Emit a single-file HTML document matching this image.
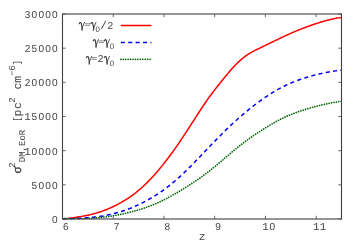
<!DOCTYPE html>
<html><head><meta charset="utf-8"><title>plot</title>
<style>
html,body{margin:0;padding:0;background:#fff;}
svg{display:block;text-rendering:geometricPrecision;}
text{fill:#444;}
.d{font-family:"Liberation Sans",sans-serif;font-size:10.1px;}
.m{font-family:"Liberation Mono",monospace;font-size:11.3px;}
.g{font-family:"Liberation Serif",serif;font-size:12.5px;}
.s{font-size:7.9px;}
.ms{font-size:9px;}
</style></head><body>
<svg width="354" height="248" viewBox="0 0 354 248">
<defs><clipPath id="cp"><rect x="62.5" y="14.0" width="279.0" height="205.6"/></clipPath><filter id="ga" filterUnits="userSpaceOnUse" x="0" y="0" width="354" height="248"><feOffset dx="0" dy="0"/></filter></defs>
<rect width="354" height="248" fill="#fff"/>
<g fill="none" stroke-linejoin="round" clip-path="url(#cp)">
<path d="M62.50,219.00 L63.90,218.96 L65.30,218.80 L66.71,218.63 L68.11,218.45 L69.51,218.28 L70.91,218.09 L72.31,217.91 L73.72,217.71 L75.12,217.51 L76.52,217.30 L77.92,217.08 L79.32,216.85 L80.73,216.62 L82.13,216.37 L83.53,216.11 L84.93,215.83 L86.33,215.55 L87.74,215.25 L89.14,214.94 L90.54,214.61 L91.94,214.27 L93.34,213.91 L94.75,213.53 L96.15,213.13 L97.55,212.72 L98.95,212.28 L100.35,211.82 L101.76,211.34 L103.16,210.84 L104.56,210.32 L105.96,209.77 L107.36,209.20 L108.77,208.61 L110.17,207.99 L111.57,207.36 L112.97,206.70 L114.37,206.02 L115.78,205.32 L117.18,204.60 L118.58,203.85 L119.98,203.09 L121.38,202.31 L122.79,201.51 L124.19,200.68 L125.59,199.83 L126.99,198.95 L128.39,198.03 L129.80,197.09 L131.20,196.11 L132.60,195.10 L134.00,194.05 L135.40,192.97 L136.81,191.85 L138.21,190.69 L139.61,189.50 L141.01,188.28 L142.41,187.02 L143.82,185.72 L145.22,184.39 L146.62,183.03 L148.02,181.63 L149.42,180.20 L150.83,178.74 L152.23,177.24 L153.63,175.71 L155.03,174.14 L156.43,172.55 L157.84,170.92 L159.24,169.26 L160.64,167.57 L162.04,165.85 L163.44,164.10 L164.85,162.32 L166.25,160.52 L167.65,158.68 L169.05,156.82 L170.45,154.93 L171.86,153.02 L173.26,151.07 L174.66,149.11 L176.06,147.11 L177.46,145.10 L178.87,143.06 L180.27,141.00 L181.67,138.92 L183.07,136.83 L184.47,134.71 L185.88,132.58 L187.28,130.44 L188.68,128.28 L190.08,126.12 L191.48,123.94 L192.89,121.76 L194.29,119.57 L195.69,117.39 L197.09,115.21 L198.49,113.03 L199.90,110.87 L201.30,108.73 L202.70,106.61 L204.10,104.52 L205.51,102.46 L206.91,100.43 L208.31,98.44 L209.71,96.49 L211.11,94.57 L212.52,92.69 L213.92,90.84 L215.32,89.01 L216.72,87.22 L218.12,85.44 L219.53,83.68 L220.93,81.94 L222.33,80.20 L223.73,78.48 L225.13,76.76 L226.54,75.05 L227.94,73.36 L229.34,71.70 L230.74,70.07 L232.14,68.48 L233.55,66.95 L234.95,65.47 L236.35,64.04 L237.75,62.67 L239.15,61.36 L240.56,60.11 L241.96,58.91 L243.36,57.78 L244.76,56.69 L246.16,55.67 L247.57,54.70 L248.97,53.79 L250.37,52.94 L251.77,52.13 L253.17,51.37 L254.58,50.64 L255.98,49.94 L257.38,49.25 L258.78,48.57 L260.18,47.89 L261.59,47.21 L262.99,46.53 L264.39,45.85 L265.79,45.17 L267.19,44.50 L268.60,43.82 L270.00,43.14 L271.40,42.46 L272.80,41.78 L274.20,41.10 L275.61,40.43 L277.01,39.75 L278.41,39.08 L279.81,38.41 L281.21,37.74 L282.62,37.07 L284.02,36.41 L285.42,35.76 L286.82,35.11 L288.22,34.47 L289.63,33.85 L291.03,33.23 L292.43,32.62 L293.83,32.02 L295.23,31.43 L296.64,30.85 L298.04,30.28 L299.44,29.72 L300.84,29.16 L302.24,28.61 L303.65,28.07 L305.05,27.53 L306.45,27.00 L307.85,26.48 L309.25,25.97 L310.66,25.46 L312.06,24.97 L313.46,24.49 L314.86,24.01 L316.26,23.55 L317.67,23.10 L319.07,22.66 L320.47,22.23 L321.87,21.81 L323.27,21.41 L324.68,21.01 L326.08,20.63 L327.48,20.26 L328.88,19.91 L330.28,19.57 L331.69,19.24 L333.09,18.93 L334.49,18.63 L335.89,18.36 L337.29,18.10 L338.70,17.87 L340.10,17.66 L341.50,17.48" stroke="#ff0000" stroke-width="1.5"/>
<path d="M62.50,219.00 L63.90,219.00 L65.30,219.00 L66.71,218.94 L68.11,218.88 L69.51,218.82 L70.91,218.76 L72.31,218.69 L73.72,218.62 L75.12,218.54 L76.52,218.46 L77.92,218.38 L79.32,218.29 L80.73,218.20 L82.13,218.11 L83.53,218.01 L84.93,217.91 L86.33,217.81 L87.74,217.70 L89.14,217.59 L90.54,217.47 L91.94,217.34 L93.34,217.21 L94.75,217.06 L96.15,216.91 L97.55,216.74 L98.95,216.55 L100.35,216.35 L101.76,216.14 L103.16,215.90 L104.56,215.65 L105.96,215.39 L107.36,215.11 L108.77,214.81 L110.17,214.50 L111.57,214.17 L112.97,213.83 L114.37,213.47 L115.78,213.10 L117.18,212.72 L118.58,212.32 L119.98,211.90 L121.38,211.47 L122.79,211.02 L124.19,210.56 L125.59,210.08 L126.99,209.58 L128.39,209.06 L129.80,208.52 L131.20,207.96 L132.60,207.38 L134.00,206.79 L135.40,206.17 L136.81,205.53 L138.21,204.88 L139.61,204.20 L141.01,203.51 L142.41,202.81 L143.82,202.08 L145.22,201.34 L146.62,200.58 L148.02,199.81 L149.42,199.02 L150.83,198.21 L152.23,197.38 L153.63,196.54 L155.03,195.67 L156.43,194.78 L157.84,193.88 L159.24,192.95 L160.64,191.99 L162.04,191.02 L163.44,190.02 L164.85,189.01 L166.25,187.96 L167.65,186.90 L169.05,185.81 L170.45,184.70 L171.86,183.57 L173.26,182.42 L174.66,181.24 L176.06,180.04 L177.46,178.83 L178.87,177.58 L180.27,176.32 L181.67,175.03 L183.07,173.72 L184.47,172.39 L185.88,171.03 L187.28,169.66 L188.68,168.26 L190.08,166.85 L191.48,165.43 L192.89,163.99 L194.29,162.54 L195.69,161.09 L197.09,159.62 L198.49,158.16 L199.90,156.69 L201.30,155.22 L202.70,153.75 L204.10,152.29 L205.51,150.82 L206.91,149.36 L208.31,147.89 L209.71,146.43 L211.11,144.98 L212.52,143.52 L213.92,142.08 L215.32,140.63 L216.72,139.19 L218.12,137.76 L219.53,136.34 L220.93,134.93 L222.33,133.52 L223.73,132.13 L225.13,130.75 L226.54,129.38 L227.94,128.03 L229.34,126.69 L230.74,125.36 L232.14,124.05 L233.55,122.75 L234.95,121.47 L236.35,120.20 L237.75,118.94 L239.15,117.70 L240.56,116.47 L241.96,115.26 L243.36,114.06 L244.76,112.88 L246.16,111.71 L247.57,110.56 L248.97,109.42 L250.37,108.29 L251.77,107.18 L253.17,106.09 L254.58,105.01 L255.98,103.95 L257.38,102.91 L258.78,101.88 L260.18,100.86 L261.59,99.86 L262.99,98.88 L264.39,97.91 L265.79,96.96 L267.19,96.03 L268.60,95.11 L270.00,94.21 L271.40,93.32 L272.80,92.46 L274.20,91.61 L275.61,90.78 L277.01,89.97 L278.41,89.17 L279.81,88.40 L281.21,87.65 L282.62,86.92 L284.02,86.21 L285.42,85.52 L286.82,84.86 L288.22,84.21 L289.63,83.59 L291.03,82.99 L292.43,82.41 L293.83,81.85 L295.23,81.31 L296.64,80.78 L298.04,80.26 L299.44,79.76 L300.84,79.27 L302.24,78.79 L303.65,78.32 L305.05,77.87 L306.45,77.42 L307.85,76.99 L309.25,76.57 L310.66,76.17 L312.06,75.78 L313.46,75.40 L314.86,75.03 L316.26,74.67 L317.67,74.33 L319.07,73.99 L320.47,73.67 L321.87,73.36 L323.27,73.06 L324.68,72.78 L326.08,72.50 L327.48,72.24 L328.88,71.98 L330.28,71.74 L331.69,71.51 L333.09,71.29 L334.49,71.08 L335.89,70.88 L337.29,70.69 L338.70,70.52 L340.10,70.35 L341.50,70.20" stroke="#0000ff" stroke-width="1.5" stroke-dasharray="4.1 3.3"/>
<path d="M62.50,218.31 L63.90,218.40 L65.30,218.47 L66.71,218.54 L68.11,218.60 L69.51,218.65 L70.91,218.70 L72.31,218.73 L73.72,218.76 L75.12,218.77 L76.52,218.78 L77.92,218.78 L79.32,218.77 L80.73,218.75 L82.13,218.73 L83.53,218.69 L84.93,218.64 L86.33,218.59 L87.74,218.52 L89.14,218.45 L90.54,218.37 L91.94,218.28 L93.34,218.18 L94.75,218.07 L96.15,217.95 L97.55,217.83 L98.95,217.69 L100.35,217.55 L101.76,217.39 L103.16,217.23 L104.56,217.06 L105.96,216.87 L107.36,216.68 L108.77,216.48 L110.17,216.26 L111.57,216.04 L112.97,215.81 L114.37,215.56 L115.78,215.31 L117.18,215.04 L118.58,214.77 L119.98,214.48 L121.38,214.18 L122.79,213.88 L124.19,213.56 L125.59,213.24 L126.99,212.90 L128.39,212.56 L129.80,212.21 L131.20,211.86 L132.60,211.49 L134.00,211.12 L135.40,210.74 L136.81,210.34 L138.21,209.94 L139.61,209.53 L141.01,209.10 L142.41,208.66 L143.82,208.20 L145.22,207.73 L146.62,207.23 L148.02,206.73 L149.42,206.20 L150.83,205.66 L152.23,205.11 L153.63,204.53 L155.03,203.95 L156.43,203.34 L157.84,202.73 L159.24,202.09 L160.64,201.44 L162.04,200.78 L163.44,200.10 L164.85,199.40 L166.25,198.68 L167.65,197.95 L169.05,197.20 L170.45,196.43 L171.86,195.66 L173.26,194.86 L174.66,194.06 L176.06,193.25 L177.46,192.43 L178.87,191.60 L180.27,190.76 L181.67,189.92 L183.07,189.06 L184.47,188.21 L185.88,187.34 L187.28,186.46 L188.68,185.57 L190.08,184.67 L191.48,183.76 L192.89,182.84 L194.29,181.90 L195.69,180.96 L197.09,180.00 L198.49,179.02 L199.90,178.04 L201.30,177.04 L202.70,176.03 L204.10,175.00 L205.51,173.96 L206.91,172.91 L208.31,171.84 L209.71,170.75 L211.11,169.64 L212.52,168.52 L213.92,167.38 L215.32,166.22 L216.72,165.05 L218.12,163.88 L219.53,162.69 L220.93,161.49 L222.33,160.30 L223.73,159.10 L225.13,157.89 L226.54,156.69 L227.94,155.50 L229.34,154.30 L230.74,153.12 L232.14,151.94 L233.55,150.77 L234.95,149.61 L236.35,148.46 L237.75,147.32 L239.15,146.20 L240.56,145.09 L241.96,143.99 L243.36,142.91 L244.76,141.85 L246.16,140.80 L247.57,139.76 L248.97,138.75 L250.37,137.75 L251.77,136.77 L253.17,135.81 L254.58,134.87 L255.98,133.94 L257.38,133.03 L258.78,132.13 L260.18,131.23 L261.59,130.35 L262.99,129.47 L264.39,128.59 L265.79,127.72 L267.19,126.86 L268.60,126.00 L270.00,125.16 L271.40,124.32 L272.80,123.50 L274.20,122.69 L275.61,121.90 L277.01,121.13 L278.41,120.37 L279.81,119.64 L281.21,118.93 L282.62,118.24 L284.02,117.58 L285.42,116.93 L286.82,116.30 L288.22,115.68 L289.63,115.09 L291.03,114.51 L292.43,113.94 L293.83,113.39 L295.23,112.85 L296.64,112.33 L298.04,111.82 L299.44,111.33 L300.84,110.85 L302.24,110.39 L303.65,109.93 L305.05,109.49 L306.45,109.06 L307.85,108.65 L309.25,108.24 L310.66,107.84 L312.06,107.44 L313.46,107.06 L314.86,106.68 L316.26,106.31 L317.67,105.95 L319.07,105.60 L320.47,105.25 L321.87,104.91 L323.27,104.58 L324.68,104.26 L326.08,103.95 L327.48,103.65 L328.88,103.37 L330.28,103.09 L331.69,102.82 L333.09,102.57 L334.49,102.34 L335.89,102.12 L337.29,101.92 L338.70,101.74 L340.10,101.58 L341.50,101.43" stroke="#006400" stroke-width="1.7" stroke-dasharray="0.01 2.43" stroke-linecap="round"/>
<path d="M120.8,25.4H151.4" stroke="#ff0000" stroke-width="1.5"/>
<path d="M120.8,42.5H151.4" stroke="#0000ff" stroke-width="1.5" stroke-dasharray="4.1 3.3"/>
<path d="M120.8,59.3H151.4" stroke="#006400" stroke-width="1.7" stroke-dasharray="0.01 2.43" stroke-linecap="round"/>
</g>
<g fill="none" stroke="#404040" stroke-width="1.1">
<rect x="62.5" y="14.0" width="279.0" height="205.0"/>
<g stroke-width="0.8" stroke="#444"><path d="M62.5,219.00h3.2M341.5,219.00h-3.2"/><path d="M62.5,184.83h3.2M341.5,184.83h-3.2"/><path d="M62.5,150.67h3.2M341.5,150.67h-3.2"/><path d="M62.5,116.50h3.2M341.5,116.50h-3.2"/><path d="M62.5,82.33h3.2M341.5,82.33h-3.2"/><path d="M62.5,48.17h3.2M341.5,48.17h-3.2"/><path d="M62.5,14.00h3.2M341.5,14.00h-3.2"/><path d="M62.50,219.0v-3.2M62.50,14.0v3.2"/><path d="M113.23,219.0v-3.2M113.23,14.0v3.2"/><path d="M163.95,219.0v-3.2M163.95,14.0v3.2"/><path d="M214.68,219.0v-3.2M214.68,14.0v3.2"/><path d="M265.41,219.0v-3.2M265.41,14.0v3.2"/><path d="M316.14,219.0v-3.2M316.14,14.0v3.2"/></g>
</g>
<g filter="url(#ga)">
<text class="d" y="222.95" text-anchor="middle"><tspan x="54.80">0</tspan></text><text class="d" y="188.78" text-anchor="middle"><tspan x="34.40">5</tspan><tspan x="41.20">0</tspan><tspan x="48.00">0</tspan><tspan x="54.80">0</tspan></text><text class="d" y="154.62" text-anchor="middle"><tspan x="27.60" style="font-family:'Liberation Mono',monospace;font-size:10.8px">1</tspan><tspan x="34.40">0</tspan><tspan x="41.20">0</tspan><tspan x="48.00">0</tspan><tspan x="54.80">0</tspan></text><text class="d" y="120.45" text-anchor="middle"><tspan x="27.60" style="font-family:'Liberation Mono',monospace;font-size:10.8px">1</tspan><tspan x="34.40">5</tspan><tspan x="41.20">0</tspan><tspan x="48.00">0</tspan><tspan x="54.80">0</tspan></text><text class="d" y="86.28" text-anchor="middle"><tspan x="27.60">2</tspan><tspan x="34.40">0</tspan><tspan x="41.20">0</tspan><tspan x="48.00">0</tspan><tspan x="54.80">0</tspan></text><text class="d" y="52.12" text-anchor="middle"><tspan x="27.60">2</tspan><tspan x="34.40">5</tspan><tspan x="41.20">0</tspan><tspan x="48.00">0</tspan><tspan x="54.80">0</tspan></text><text class="d" y="17.95" text-anchor="middle"><tspan x="27.60">3</tspan><tspan x="34.40">0</tspan><tspan x="41.20">0</tspan><tspan x="48.00">0</tspan><tspan x="54.80">0</tspan></text>
<text class="d" y="229.70" text-anchor="middle"><tspan x="65.90">6</tspan></text><text class="d" y="229.70" text-anchor="middle"><tspan x="116.63">7</tspan></text><text class="d" y="229.70" text-anchor="middle"><tspan x="167.35">8</tspan></text><text class="d" y="229.70" text-anchor="middle"><tspan x="218.08">9</tspan></text><text class="d" y="229.70" text-anchor="middle"><tspan x="265.41" style="font-family:'Liberation Mono',monospace;font-size:10.8px">1</tspan><tspan x="272.21">0</tspan></text><text class="d" y="229.70" text-anchor="middle"><tspan x="316.14" style="font-family:'Liberation Mono',monospace;font-size:10.8px">1</tspan><tspan x="322.94" style="font-family:'Liberation Mono',monospace;font-size:10.8px">1</tspan></text>
<text class="m" x="202.2" y="239.8" text-anchor="middle">z</text>
<g transform="translate(79.0,28.5)" fill="none" stroke="#333" stroke-linecap="round" stroke-linejoin="round"><path d="M0.25,-4.7C0.6,-6.1 1.7,-6.4 2.3,-5.1L3.2,-0.3" stroke-width="1.1"/><path d="M3.2,-0.3C3.5,0.9 3.5,2.1 3.0,2.1C2.5,2.1 2.6,0.9 3.1,-0.4L5.5,-6.1" stroke-width="0.8"/></g><path d="M84.8,23.75h5.2M84.8,25.4h5.2" stroke="#444" stroke-width="0.75" fill="none" opacity="0.8"/><g transform="translate(90.5,28.5)" fill="none" stroke="#333" stroke-linecap="round" stroke-linejoin="round"><path d="M0.25,-4.7C0.6,-6.1 1.7,-6.4 2.3,-5.1L3.2,-0.3" stroke-width="1.1"/><path d="M3.2,-0.3C3.5,0.9 3.5,2.1 3.0,2.1C2.5,2.1 2.6,0.9 3.1,-0.4L5.5,-6.1" stroke-width="0.8"/></g><text class="d s" x="97.8" y="31.7" text-anchor="middle">0</text><text class="m" x="103.6" y="28.5" text-anchor="middle">/</text><text class="d" x="110.4" y="28.5" text-anchor="middle">2</text><g transform="translate(93.0,45.6)" fill="none" stroke="#333" stroke-linecap="round" stroke-linejoin="round"><path d="M0.25,-4.7C0.6,-6.1 1.7,-6.4 2.3,-5.1L3.2,-0.3" stroke-width="1.1"/><path d="M3.2,-0.3C3.5,0.9 3.5,2.1 3.0,2.1C2.5,2.1 2.6,0.9 3.1,-0.4L5.5,-6.1" stroke-width="0.8"/></g><path d="M98.6,40.85h5.2M98.6,42.5h5.2" stroke="#444" stroke-width="0.75" fill="none" opacity="0.8"/><g transform="translate(104.0,45.6)" fill="none" stroke="#333" stroke-linecap="round" stroke-linejoin="round"><path d="M0.25,-4.7C0.6,-6.1 1.7,-6.4 2.3,-5.1L3.2,-0.3" stroke-width="1.1"/><path d="M3.2,-0.3C3.5,0.9 3.5,2.1 3.0,2.1C2.5,2.1 2.6,0.9 3.1,-0.4L5.5,-6.1" stroke-width="0.8"/></g><text class="d s" x="111.9" y="48.800000000000004" text-anchor="middle">0</text><g transform="translate(86.2,62.4)" fill="none" stroke="#333" stroke-linecap="round" stroke-linejoin="round"><path d="M0.25,-4.7C0.6,-6.1 1.7,-6.4 2.3,-5.1L3.2,-0.3" stroke-width="1.1"/><path d="M3.2,-0.3C3.5,0.9 3.5,2.1 3.0,2.1C2.5,2.1 2.6,0.9 3.1,-0.4L5.5,-6.1" stroke-width="0.8"/></g><path d="M91.6,57.65h5.2M91.6,59.3h5.2" stroke="#444" stroke-width="0.75" fill="none" opacity="0.8"/><g transform="translate(104.0,62.4)" fill="none" stroke="#333" stroke-linecap="round" stroke-linejoin="round"><path d="M0.25,-4.7C0.6,-6.1 1.7,-6.4 2.3,-5.1L3.2,-0.3" stroke-width="1.1"/><path d="M3.2,-0.3C3.5,0.9 3.5,2.1 3.0,2.1C2.5,2.1 2.6,0.9 3.1,-0.4L5.5,-6.1" stroke-width="0.8"/></g><text class="d" x="100.5" y="62.4" text-anchor="middle">2</text><text class="d s" x="111.9" y="65.6" text-anchor="middle">0</text>
<g transform="translate(21.2,174) rotate(-90)">
<text class="m" y="0"><tspan class="g" x="0.5" style="font-size:13px;stroke:#333;stroke-width:0.35px">σ</tspan><tspan class="ms" x="6.2" dy="-6.3">2</tspan><tspan class="ms" x="11.8" dy="10.2">DM,EoR</tspan><tspan x="52.1" dy="-5.3" style="font-size:9.6px">[</tspan><tspan x="57.6" dy="1.4">p</tspan><tspan x="65.0">c</tspan><tspan class="ms" x="71.3" dy="-6.3">2</tspan><tspan x="84.4" dy="6.3">cm</tspan><tspan class="ms" x="97.9" dy="-6.3">−6</tspan><tspan x="108.6" dy="5.1" style="font-size:9.6px">]</tspan></text>
</g>
</g>
</svg>
</body></html>
